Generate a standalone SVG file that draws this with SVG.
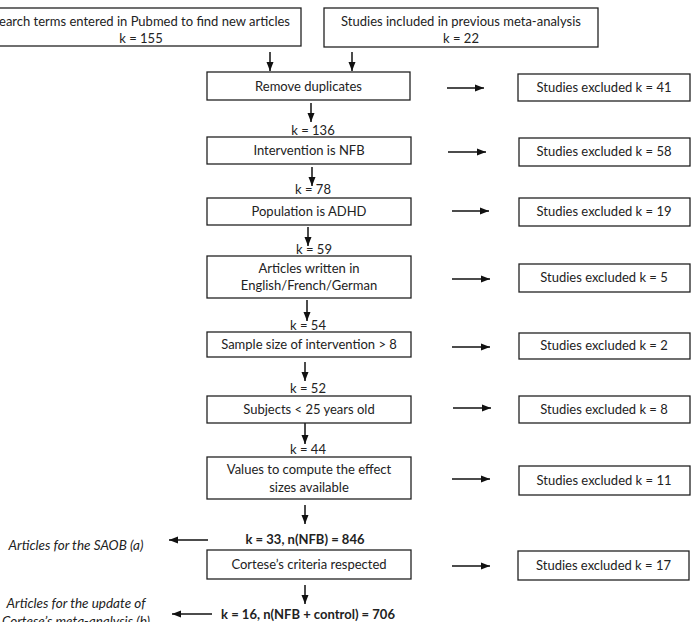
<svg xmlns="http://www.w3.org/2000/svg" width="697" height="622" viewBox="0 0 697 622">
<defs>
<marker id="ah" markerUnits="userSpaceOnUse" markerWidth="10" markerHeight="10" viewBox="0 0 10 10" refX="9" refY="5" orient="auto">
<path d="M0,1.5 L9,5 L0,8.5 Z" fill="#111"/>
</marker>
</defs>
<style>
rect.b{fill:#fff;stroke:#222;stroke-width:1.3}
text{font-family:Lato,"Liberation Sans",sans-serif;font-size:13px;fill:#222;text-anchor:middle}
text.bold{font-weight:bold}
text.it{font-style:italic;font-size:13.5px}
#connectors line{stroke:#111;stroke-width:1.5;marker-end:url(#ah)}
</style>
<rect width="697" height="622" fill="#fff"/>
<g id="connectors">
<line x1="270" y1="52" x2="270" y2="71"/>
<line x1="352" y1="52" x2="352" y2="71"/>
<line x1="311" y1="103" x2="311" y2="122"/>
<line x1="312" y1="167" x2="312" y2="186"/>
<line x1="308" y1="227" x2="308" y2="246"/>
<line x1="307" y1="300" x2="307" y2="321"/>
<line x1="305" y1="362" x2="305" y2="381"/>
<line x1="305" y1="423" x2="305" y2="444"/>
<line x1="305" y1="505" x2="305" y2="524"/>
<line x1="305" y1="585" x2="305" y2="604"/>
<line x1="447" y1="88" x2="484" y2="88"/>
<line x1="448" y1="152" x2="486" y2="152"/>
<line x1="452" y1="211" x2="489" y2="211"/>
<line x1="452" y1="279" x2="490" y2="279"/>
<line x1="452" y1="347" x2="490" y2="347"/>
<line x1="453" y1="408" x2="491" y2="408"/>
<line x1="452" y1="479" x2="490" y2="479"/>
<line x1="452" y1="566" x2="490" y2="566"/>
<line x1="208" y1="540" x2="169" y2="540"/>
<line x1="212" y1="614" x2="172" y2="614"/>
</g>
<g id="search"><rect class="b" x="-19" y="8" width="320" height="38"/><text x="141" y="26">Search terms entered in Pubmed to find new articles</text><text x="141" y="43">k = 155</text></g>
<g id="previous"><rect class="b" x="324" y="8" width="274" height="39"/><text x="461" y="26">Studies included in previous meta-analysis</text><text x="461" y="43">k = 22</text></g>
<g id="dup"><rect class="b" x="207" y="72" width="203" height="28"/><text x="308.5" y="90.5">Remove duplicates</text></g>
<g id="ex41"><rect class="b" x="518" y="74" width="172" height="27"/><text x="604" y="92">Studies excluded k = 41</text></g>
<g id="k136"><text x="313" y="135">k = 136</text></g>
<g id="nfb"><rect class="b" x="207" y="137" width="204" height="27"/><text x="309" y="155">Intervention is NFB</text></g>
<g id="ex58"><rect class="b" x="519" y="138" width="171" height="28"/><text x="604" y="156">Studies excluded k = 58</text></g>
<g id="k78"><text x="313" y="194">k = 78</text></g>
<g id="adhd"><rect class="b" x="207" y="198" width="204" height="27"/><text x="309" y="216">Population is ADHD</text></g>
<g id="ex19"><rect class="b" x="519" y="198" width="171" height="28"/><text x="604" y="216">Studies excluded k = 19</text></g>
<g id="k59"><text x="314" y="254">k = 59</text></g>
<g id="lang"><rect class="b" x="207" y="256" width="204" height="42"/><text x="309" y="273">Articles written in</text><text x="309" y="290">English/French/German</text></g>
<g id="ex5"><rect class="b" x="519" y="264" width="171" height="28"/><text x="604" y="282">Studies excluded k = 5</text></g>
<g id="k54"><text x="308" y="330">k = 54</text></g>
<g id="sample"><rect class="b" x="207" y="332" width="204" height="25"/><text x="309" y="349">Sample size of intervention &gt; 8</text></g>
<g id="ex2"><rect class="b" x="519" y="333" width="171" height="26"/><text x="604" y="350">Studies excluded k = 2</text></g>
<g id="k52"><text x="308" y="393">k = 52</text></g>
<g id="age"><rect class="b" x="207" y="396" width="204" height="27"/><text x="309" y="414">Subjects &lt; 25 years old</text></g>
<g id="ex8"><rect class="b" x="519" y="396" width="171" height="27"/><text x="604" y="414">Studies excluded k = 8</text></g>
<g id="k44"><text x="308" y="454">k = 44</text></g>
<g id="values"><rect class="b" x="207" y="457" width="204" height="42"/><text x="309" y="474">Values to compute the effect</text><text x="309" y="492">sizes available</text></g>
<g id="ex11"><rect class="b" x="519" y="466" width="171" height="29"/><text x="604" y="484.5">Studies excluded k = 11</text></g>
<g id="k33"><text class="bold" x="305" y="544">k = 33, n(NFB) = 846</text></g>
<g id="saob"><text class="it" x="76" y="550">Articles for the SAOB (a)</text></g>
<g id="cortese"><rect class="b" x="207" y="550" width="204" height="29"/><text x="309" y="569">Cortese’s criteria respected</text></g>
<g id="ex17"><rect class="b" x="518" y="551" width="171" height="29"/><text x="603.5" y="570">Studies excluded k = 17</text></g>
<g id="k16"><text class="bold" x="308" y="619">k = 16, n(NFB + control) = 706</text></g>
<g id="update"><text class="it" x="76" y="608">Articles for the update of</text><text class="it" x="76" y="626">Cortese’s meta-analysis (b)</text></g>
</svg>
